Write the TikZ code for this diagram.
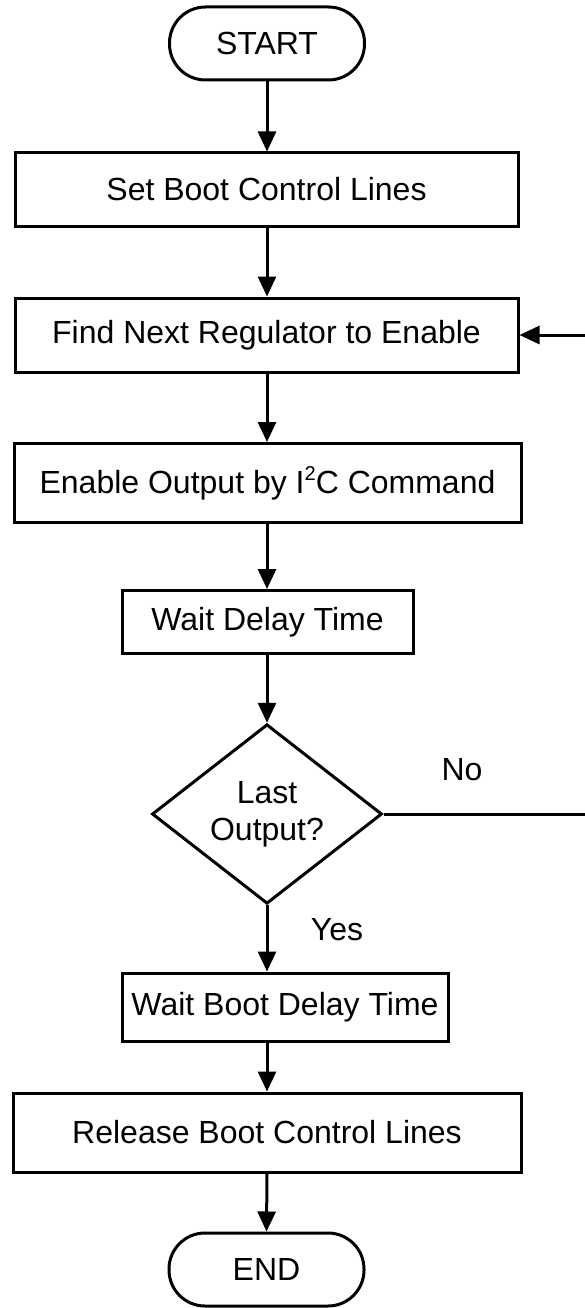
\documentclass[tikz,border=0pt]{standalone}
\usepackage{fontspec}
\setmainfont{Liberation Sans}
\usetikzlibrary{arrows.meta,shapes.geometric}
\newcommand{\smallsup}[1]{\raisebox{0.75ex}{\fontsize{20}{20}\selectfont #1}}
\begin{document}
\begin{tikzpicture}[x=1pt,y=-1pt,
  base/.style={draw=black,line width=3pt,inner sep=0pt,
    font=\fontsize{32}{37}\selectfont},
  procbox/.style={base,rectangle},
  term/.style={base,rectangle,rounded corners=36pt,
    minimum width=195pt,minimum height=73pt},
  decision/.style={base,diamond,align=center,
    minimum width=230pt,minimum height=168pt},
  flow/.style={line width=3pt,-{Triangle[width=18pt,length=20pt]}},
  lbl/.style={font=\fontsize{32}{37}\selectfont,inner sep=0pt}
]
\useasboundingbox (0,0) rectangle (584,1308);

% process steps
\node[term] (start) at (267,43.5) {START};
\node[procbox,minimum width=503pt,minimum height=73pt] (setlines) at (266.5,189.5) {Set Boot Control Lines};
\node[procbox,minimum width=503pt,minimum height=74pt] (findreg) at (266.5,335) {Find Next Regulator to Enable};
\node[procbox,minimum width=507pt,minimum height=79pt] (enable) at (267.5,483) {Enable Output by I\smallsup{2}C Command};
\node[procbox,minimum width=291pt,minimum height=63pt] (wait) at (267.5,622) {Wait Delay Time};
\node[decision] (last) at (267,814) {Last\\Output?};
\node[procbox,minimum width=326pt,minimum height=68pt] (bootwait) at (285,1007) {Wait Boot Delay Time};
\node[procbox,minimum width=508pt,minimum height=79pt] (release) at (267,1132.5) {Release Boot Control Lines};
\node[term] (stop) at (266.5,1269.5) {END};

% branch labels
\node[lbl] (nolbl) at (462,770) {No};
\node[lbl] (yeslbl) at (337,930) {Yes};

% main flow
\draw[flow] (start.south) -- (start.south |- setlines.north);
\draw[flow] (start.south |- setlines.south) -- (start.south |- findreg.north);
\draw[flow] (start.south |- findreg.south) -- (start.south |- enable.north);
\draw[flow] (start.south |- enable.south) -- (start.south |- wait.north);
\draw[flow] (start.south |- wait.south) -- (last.north);
\draw[flow] (last.south) -- (last.south |- bootwait.north);
\draw[flow] (last.south |- bootwait.south) -- (last.south |- release.north);
\draw[flow] (last.south |- release.south) -- (stop.north);

% loop back for the next regulator
\coordinate (loopbot) at (593,814);
\coordinate (looptop) at (593,335);
\draw[flow] (last.east) -- (loopbot) -- (looptop) -- (findreg.east);
\end{tikzpicture}
\end{document}
